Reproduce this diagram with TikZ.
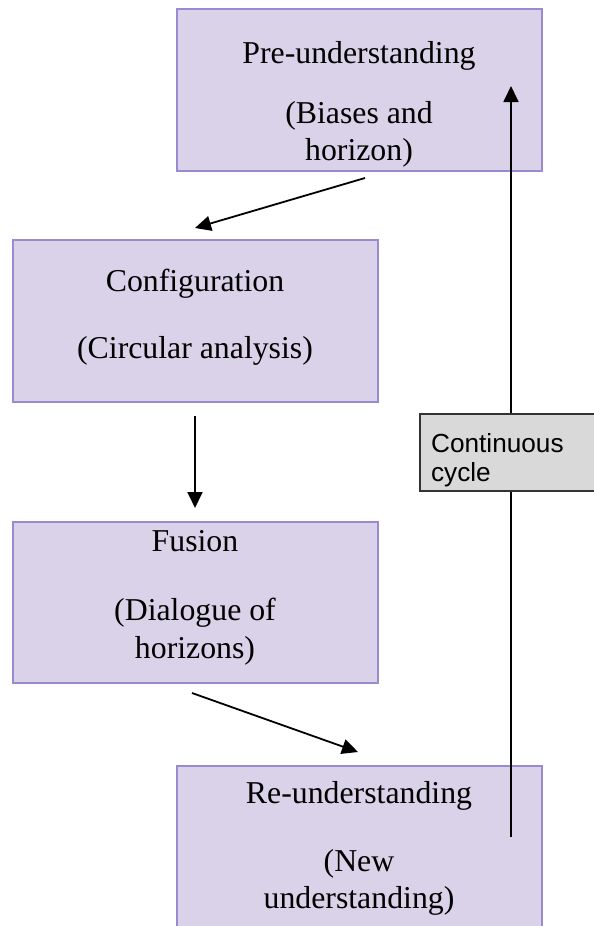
\documentclass[tikz,border=0pt]{standalone}
\usepackage{fontspec}
\setmainfont{Liberation Serif}
\newfontfamily\labelfont{Liberation Sans}
\usetikzlibrary{arrows.meta,calc}
\definecolor{boxfill}{HTML}{D9D2E9}
\definecolor{boxline}{HTML}{9A8AD0}
\definecolor{lblfill}{HTML}{D9D9D9}
\definecolor{lblline}{HTML}{333333}
\tikzset{
  stagebox/.style={draw=boxline, fill=boxfill, line width=1pt, rectangle, inner sep=0pt, outer sep=0pt, anchor=north west},
  stagetext/.style={anchor=base, inner sep=0pt, font=\fontsize{15.9}{18}\selectfont},
  lblbox/.style={draw=lblline, fill=lblfill, line width=0.7pt, rectangle, inner sep=0pt, outer sep=0pt, anchor=north west},
  lbltext/.style={anchor=base west, inner sep=0pt, font=\labelfont\fontsize{13.1}{15}\selectfont},
  flow/.style={draw=black, line width=0.9pt, -{Triangle[length=8pt,width=7.5pt]}}
}
\begin{document}
\begin{tikzpicture}[x=0.5pt,y=-0.5pt]
\useasboundingbox (0,0) rectangle (594,926);
% boxes
\node[stagebox, minimum width=182.5pt, minimum height=81pt] (pre) at (176.5,8.5) {};
\node[stagebox, minimum width=182.5pt, minimum height=81pt] (conf) at (12.5,239.5) {};
\node[stagebox, minimum width=182.5pt, minimum height=80.5pt] (fus) at (12.5,522) {};
\node[stagebox, minimum width=182.5pt, minimum height=90pt] (re) at (176.5,766) {};
% texts
\node[stagetext] (pre-a) at (359,63.5) {Pre-understanding};
\node[stagetext] (pre-b) at (359,123) {(Biases and};
\node[stagetext] (pre-c) at (359,160) {horizon)};
\node[stagetext] (conf-a) at (195,291.5) {Configuration};
\node[stagetext] (conf-b) at (195,358.5) {(Circular analysis)};
\node[stagetext] (fus-a) at (195,551.5) {Fusion};
\node[stagetext] (fus-b) at (195,620) {(Dialogue of};
\node[stagetext] (fus-c) at (195,658.5) {horizons)};
\node[stagetext] (re-a) at (359,803.5) {Re-understanding};
\node[stagetext] (re-b) at (359,871.5) {(New};
\node[stagetext] (re-c) at (359,908.5) {understanding)};
% flow arrows
\draw[flow] ([shift={(6,7.5)}]pre.south) -- ([shift={(0,-11.5)}]conf.north);
\draw[flow] ([shift={(0,14)}]conf.south) -- ([shift={(0,-14)}]fus.north);
\draw[flow] ([shift={(-3,10)}]fus.south) -- ([shift={(-1,-14)}]re.north);
% cycle
\coordinate (cycstart) at ([shift={(334.5,71)}]re.north west);
\coordinate (cycend) at ([shift={(334.5,77.5)}]pre.north west);
\draw[flow] (cycstart) -- (cycend);
\node[lblbox, minimum width=92pt, minimum height=38.5pt] (lbl) at (420,414) {};
\node[lbltext] (lbl-a) at (430.7,452.7) {Continuous};
\node[lbltext] (lbl-b) at (430.7,481.7) {cycle};
\end{tikzpicture}
\end{document}
